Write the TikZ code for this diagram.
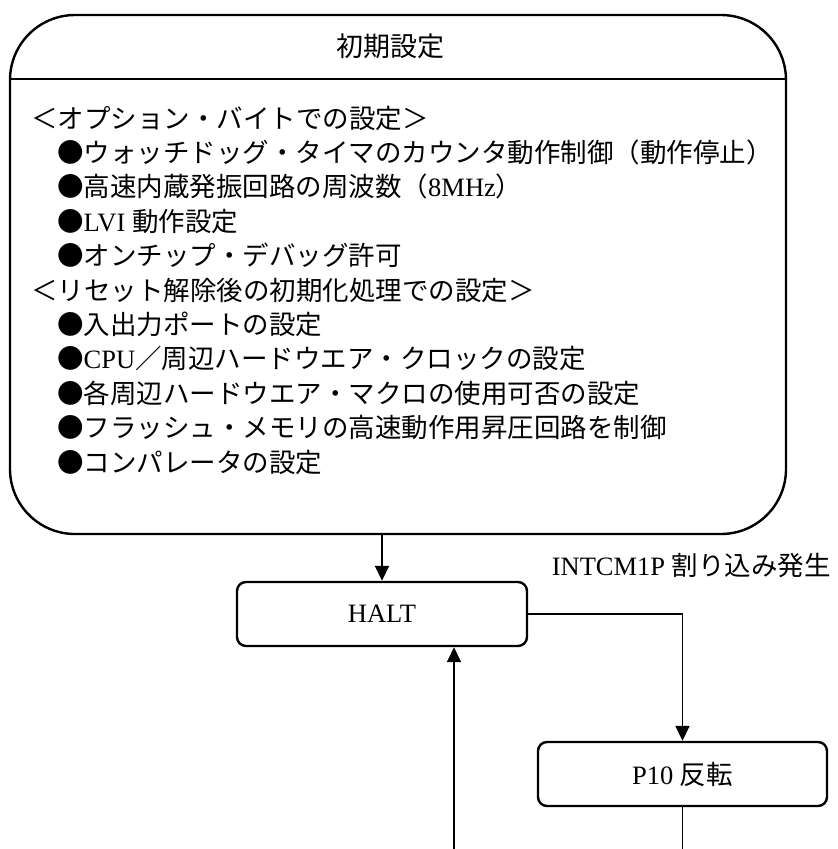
\documentclass[tikz,border=0pt]{standalone}
\usepackage{fontspec}
\setmainfont{Liberation Serif}
\newfontfamily\jp{Noto Sans CJK JP}
\newcommand\jpt[1]{{\jp #1}}
\usetikzlibrary{arrows.meta,calc}
\tikzset{
  bigbox/.style={draw, line width=2.4pt, rounded corners=65pt, minimum width=776pt, minimum height=519pt, inner sep=0pt},
  smallbox/.style={draw, line width=2.4pt, rounded corners=9pt, inner sep=0pt, font=\fontsize{26.5}{30}\selectfont},
  line/.style={draw, line width=1.7pt},
  conn/.style={line, -{Triangle[length=15pt,width=14pt]}},
  txt/.style={inner sep=0pt, anchor=base west, font=\fontsize{26.5}{32}\selectfont},
  lbl/.style={inner sep=0pt, font=\fontsize{26.5}{30}\selectfont}
}
\begin{document}
\begin{tikzpicture}[x=1pt,y=-1pt]
\useasboundingbox (0,0) rectangle (838,849);
\node[bigbox] (init) at (398,274.5) {};
\draw[line width=2.4pt] ($(init.north west)+(0,65)$) coordinate (dl) -- (dl -| init.east) coordinate (dr);
\node[lbl, font=\fontsize{27}{32}\selectfont] (title) at (390,46) {\jpt{初期設定}};

\node[txt] (l1) at (31,128) {\jpt{＜オプション・バイトでの設定＞}};
\node[txt] (l2) at (57,162.4) {\jpt{●ウォッチドッグ・タイマのカウンタ動作制御（動作停止）}};
\node[txt] (l3) at (57,196.8) {\jpt{●高速内蔵発振回路の周波数（}8MHz\jpt{）}};
\node[txt] (l4) at (57,231.2) {\jpt{●}LVI \jpt{動作設定}};
\node[txt] (l5) at (57,265.6) {\jpt{●オンチップ・デバッグ許可}};
\node[txt] (l6) at (31,300) {\jpt{＜リセット解除後の初期化処理での設定＞}};
\node[txt] (l7) at (57,334.4) {\jpt{●入出力ポートの設定}};
\node[txt] (l8) at (57,368.8) {\jpt{●}CPU\jpt{／周辺ハードウエア・クロックの設定}};
\node[txt] (l9) at (57,403.2) {\jpt{●各周辺ハードウエア・マクロの使用可否の設定}};
\node[txt] (l10) at (57,437.6) {\jpt{●フラッシュ・メモリの高速動作用昇圧回路を制御}};
\node[txt] (l11) at (57,472) {\jpt{●コンパレータの設定}};

\node[smallbox, minimum width=290pt, minimum height=64pt] (halt) at (382,614) {HALT};
\node[smallbox, minimum width=289pt, minimum height=64pt] (p10) at (682.5,774) {P10 \jpt{反転}};
\node[lbl, anchor=east] (intl) at (831,565) {INTCM1P \jpt{割り込み発生}};

\coordinate (bl) at (454,852);
\coordinate (br) at (682.5,852);

\draw[conn] (halt.north |- init.south) -- (halt.north);
\draw[conn] (halt.east) -| (p10.north);
\draw[line] (p10.south) -- (br);
\draw[conn] (bl) -- (bl |- halt.south);
\end{tikzpicture}
\end{document}
